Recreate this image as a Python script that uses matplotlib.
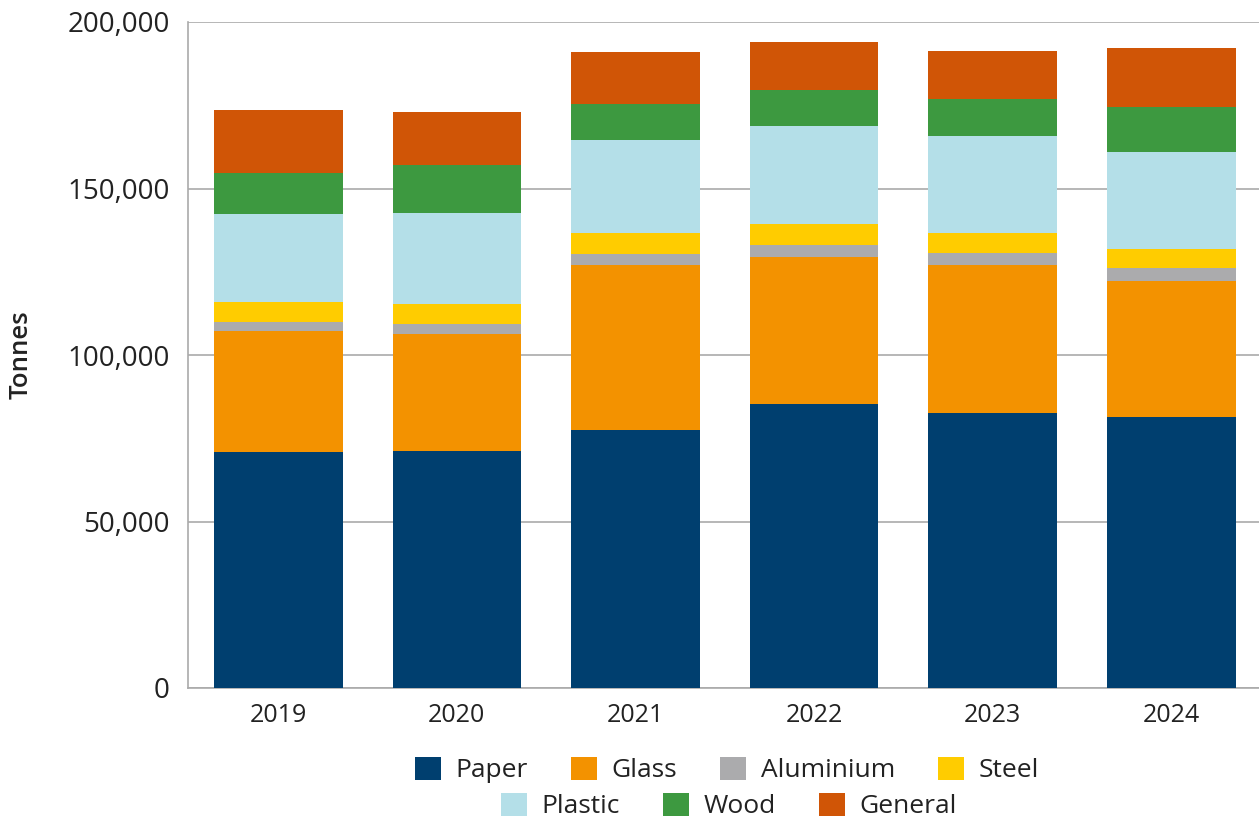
import matplotlib
matplotlib.use("Agg")
import matplotlib.pyplot as plt
import numpy as np
from matplotlib.patches import Patch

years = ["2019", "2020", "2021", "2022", "2023", "2024"]
paper = [70900, 71200, 77500, 85300, 82600, 81400]
glass = [36300, 35200, 49500, 44100, 44400, 40800]
aluminium = [2700, 2900, 3300, 3600, 3600, 3900]
steel = [6000, 6100, 6300, 6300, 6000, 5700]
plastic = [26400, 27200, 28000, 29500, 29200, 29200]
wood = [12400, 14400, 10900, 10800, 11100, 13500]
general = [18900, 16000, 15500, 14400, 14400, 17700]

series = [
    ("Paper", paper, "#003F6F"),
    ("Glass", glass, "#F39200"),
    ("Aluminium", aluminium, "#ABABAD"),
    ("Steel", steel, "#FFCC00"),
    ("Plastic", plastic, "#B4DFE8"),
    ("Wood", wood, "#3D9940"),
    ("General", general, "#D05506"),
]

plt.rcParams["font.family"] = ["Open Sans", "DejaVu Sans"]
text_color = "#222222"

fig = plt.figure(figsize=(12.59, 8.19), dpi=100)
ax = fig.add_axes([188 / 1259, 131 / 819, 1 - 188 / 1259, (688 - 22) / 819])

x = np.arange(len(years))
bottom = np.zeros(len(years))
for name, vals, color in series:
    ax.bar(x, vals, width=0.72, bottom=bottom, color=color, label=name, zorder=3)
    bottom += np.array(vals)

ax.set_xlim(-0.505, 5.49)
ax.set_ylim(0, 200000)
ax.set_yticks(np.arange(0, 200001, 50000))
ax.yaxis.set_major_formatter(matplotlib.ticker.FuncFormatter(lambda v, p: f"{int(v):,}"))
ax.set_xticks(x)
ax.set_xticklabels(years)
ax.tick_params(axis="x", labelsize=18, colors=text_color, length=0, pad=11)
ax.tick_params(axis="y", labelsize=20, colors=text_color, length=0, pad=13)
ax.grid(axis="y", color="#AAAAAA", linewidth=1.2, zorder=0)
for side in ["top", "right"]:
    ax.spines[side].set_visible(False)
ax.spines["left"].set_color("#AAAAAA")
ax.spines["bottom"].set_color("#AAAAAA")
ax.spines["left"].set_linewidth(1.2)
ax.spines["bottom"].set_linewidth(1.2)

fig.text(21 / 1259, 1 - 355 / 819, "Tonnes", rotation=90, ha="center", va="center",
         fontsize=18.5, fontweight="semibold", color=text_color)

handles = [Patch(facecolor=c, label=n) for n, _, c in series]
leg_kw = dict(frameon=False, fontsize=19, handlelength=0.98, handleheight=0.98,
              handletextpad=0.57, columnspacing=1.62, labelcolor=text_color,
              borderpad=0, borderaxespad=0)
leg1 = fig.legend(handles=handles[:4], ncol=4, loc="center",
                  bbox_to_anchor=(727 / 1259, 1 - 770 / 819), **leg_kw)
leg2 = fig.legend(handles=handles[4:], ncol=3, loc="center",
                  bbox_to_anchor=(729 / 1259, 1 - 806 / 819), **leg_kw)

fig.savefig("out.png", dpi=100)
